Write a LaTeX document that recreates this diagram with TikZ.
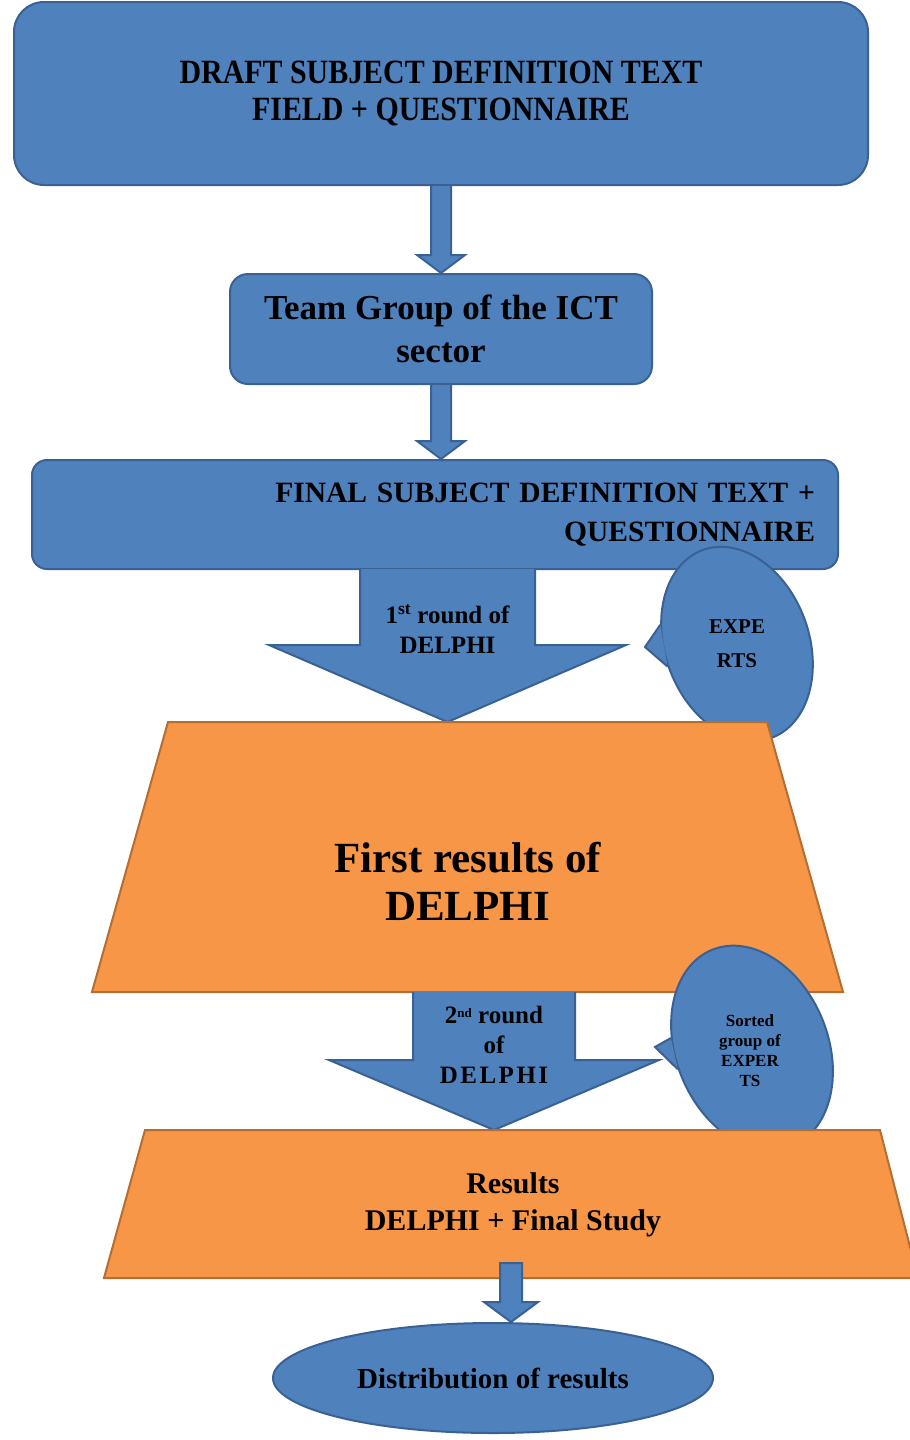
\documentclass[tikz,border=0pt]{standalone}
\usepackage{fontspec}
\setmainfont{Liberation Serif}
\newfontfamily\narrowfont[FakeStretch=0.88]{Liberation Serif}
\usetikzlibrary{shapes.geometric,calc}
\definecolor{boxblue}{HTML}{4F81BD}
\definecolor{edgeblue}{HTML}{3A6193}
\definecolor{boxorange}{HTML}{F79646}
\definecolor{edgeorange}{HTML}{B66D31}
\tikzset{
  bluebox/.style={draw=edgeblue, fill=boxblue, line width=2pt, rounded corners=#1, align=center, inner sep=0pt},
  bluebox/.default=20pt,
  blueoval/.style={draw=edgeblue, fill=boxblue, line width=2pt, ellipse, inner sep=0pt, align=center},
  orangebox/.style={draw=edgeorange, fill=boxorange, line width=2pt, line join=miter},
  bluearrow/.style={draw=edgeblue, fill=boxblue, line width=2pt, line join=miter},
  arrowtext/.style={align=center, inner sep=0pt, font=\bfseries\fontsize{25}{30}\selectfont},
  bubtext/.style={align=center, inner sep=0pt},
}
\begin{document}
\begin{tikzpicture}[x=1pt, y=-1pt]
\useasboundingbox (0,0) rectangle (910,1440);
% boxes at the top
\node[bluebox=30pt, minimum width=854pt, minimum height=183pt, font=\narrowfont\bfseries\fontsize{34}{37}\selectfont] (draft) at (441,93.5) {DRAFT SUBJECT DEFINITION TEXT\\FIELD + QUESTIONNAIRE};
\node[bluebox=18pt, minimum width=422pt, minimum height=110pt, font=\bfseries\fontsize{35}{43}\selectfont] (team) at (441,329) {Team Group of the ICT\\sector};
\node[bluebox=15pt, minimum width=806pt, minimum height=109pt, text width=760pt, inner xsep=23pt, align=right, font=\bfseries\fontsize{29.5}{39}\selectfont] (final) at (435,514.5) {FINAL SUBJECT DEFINITION TEXT +\\QUESTIONNAIRE};
% thin arrows
\draw[bluearrow] ($(draft.south)+(-10,0)$) -- ($(team.north)+(-10,-18)$) -- ++(-14,0) -- (team.north) -- ++(24,-18) -- ++(-14,0) -- ($(draft.south)+(10,0)$);
\draw[bluearrow] ($(team.south)+(-10,0)$) -- ($(team.south |- final.north)+(-10,-18)$) -- ++(-14,0) -- (team.south |- final.north) -- ++(24,-18) -- ++(-14,0) -- ($(team.south)+(10,0)$);
% experts callout
\node[blueoval, rotate=20, minimum width=144pt, minimum height=200pt] (expbub) at (737,644) {};
\coordinate (exptip) at (645,647);
\fill[boxblue] (exptip) -- (expbub.146) -- (expbub.178) -- cycle;
\draw[edgeblue, line width=2pt] (expbub.146) -- (exptip) -- (expbub.178);
\node[bubtext, font=\bfseries\fontsize{21}{34}\selectfont] (exptext) at (737,644) {EXPE\\RTS};
% first round
\coordinate (r1from) at (447.5,569);
\coordinate (r1to) at (447.5,722);
\draw[bluearrow] ($(r1from)+(-87.5,0)$) -- ($(r1to)+(-87.5,-77)$) -- ++(-91,0) -- (r1to) -- ++(178.5,-77) -- ++(-91,0) -- ($(r1from)+(87.5,0)$);
\node[arrowtext] (round1) at (447.5,629.5) {1\textsuperscript{st} round of\\DELPHI};
\draw[orangebox] (168,722) -- (767,722) -- (843,992) -- (92,992) -- cycle;
\node[bubtext, font=\bfseries\fontsize{43}{48}\selectfont] (first) at (467.5,881) {First results of\\DELPHI};
% sorted experts callout
\node[blueoval, rotate=22, minimum width=152pt, minimum height=212pt] (sortbub) at (752,1048) {};
\coordinate (sorttip) at (655,1047);
\fill[boxblue] (sorttip) -- (sortbub.151) -- (sortbub.174) -- cycle;
\draw[edgeblue, line width=2pt] (sortbub.151) -- (sorttip) -- (sortbub.174);
\node[bubtext, font=\bfseries\fontsize{17}{20}\selectfont] (sorttext) at (750,1051) {Sorted\\group of\\EXPER\\TS};
% second round
\coordinate (r2from) at (494,992);
\coordinate (r2to) at (494,1130);
\draw[bluearrow] ($(r2from)+(-81,0)$) -- ($(r2to)+(-81,-70)$) -- ++(-84,0) -- (r2to) -- ++(165,-70) -- ++(-84,0) -- ($(r2from)+(81,0)$);
\node[arrowtext] (round2) at (494,1045) {2\raisebox{6pt}{\fontsize{13}{13}\selectfont nd} round\\of\\D\kern2.5pt E\kern2.5pt L\kern2.5pt P\kern2.5pt H\kern2.5pt I};
\draw[orangebox] (145,1130) -- (880,1130) -- (918,1278) -- (104,1278) -- cycle;
\node[bubtext, font=\bfseries\fontsize{30}{37}\selectfont] (results) at (513,1204.5) {Results\\DELPHI + Final Study};
% last step
\coordinate (r3from) at (511,1263);
\node[blueoval, minimum width=440pt, minimum height=110pt, font=\bfseries\fontsize{29}{30}\selectfont] (dist) at (493,1378) {Distribution of results};
\draw[bluearrow] ($(r3from)+(-11,0)$) -- ($(r3from |- dist.north)+(-11,-20)$) -- ++(-16,0) -- (r3from |- dist.north) -- ++(27,-20) -- ++(-16,0) -- ($(r3from)+(11,0)$) -- cycle;
\end{tikzpicture}
\end{document}
